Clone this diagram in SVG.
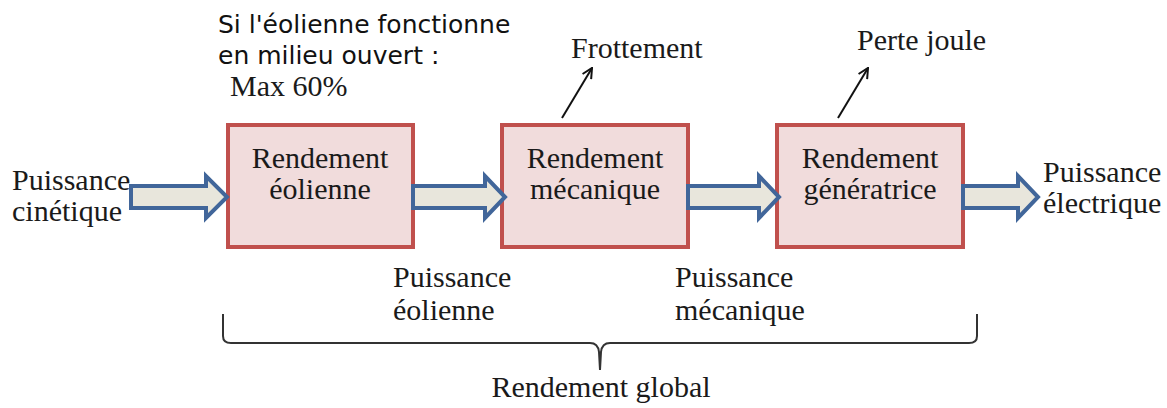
<svg xmlns="http://www.w3.org/2000/svg" width="1167" height="408" viewBox="0 0 1167 408">
  <defs>
    <style>
      .box { fill: #f1dcdc; stroke: #c0504d; stroke-width: 4; }
      .serif { font-family: "Liberation Serif", "Times New Roman", serif; font-size: 30px; fill: #1a1a1a; }
      .sans { font-family: "DejaVu Sans", sans-serif; font-size: 25px; fill: #111; }
      .mid { text-anchor: middle; }
      .flow { fill: #e8e6dc; stroke: #41669a; stroke-width: 4; stroke-linejoin: miter; }
      .loss { stroke: #111; stroke-width: 2; fill: none; }
      .brace { stroke: #333; stroke-width: 2; fill: none; }
    </style>
    <marker id="open" viewBox="0 0 12 12" refX="11" refY="6" markerWidth="12" markerHeight="12" markerUnits="userSpaceOnUse" orient="auto">
      <path d="M1,1 L11,6 L1,11" fill="none" stroke="#111" stroke-width="2"/>
    </marker>
  </defs>
  <rect width="1167" height="408" fill="#ffffff"/>

  <g id="note">
    <text class="sans" x="218" y="33">Si l'éolienne fonctionne</text>
    <text class="sans" x="218" y="64">en milieu ouvert :</text>
    <text class="serif" x="230" y="96">Max 60%</text>
  </g>

  <g id="input">
    <text class="serif" x="12" y="190">Puissance</text>
    <text class="serif" x="12" y="221">cinétique</text>
  </g>

  <g id="box-eolienne">
    <rect class="box" x="228" y="125" width="185" height="122"/>
    <text class="serif mid" x="320" y="168">Rendement</text>
    <text class="serif mid" x="320" y="199">éolienne</text>
  </g>

  <g id="box-mecanique">
    <rect class="box" x="502" y="125" width="186" height="122"/>
    <text class="serif mid" x="595" y="168">Rendement</text>
    <text class="serif mid" x="595" y="199">mécanique</text>
  </g>

  <g id="box-generatrice">
    <rect class="box" x="777" y="125" width="186" height="122"/>
    <text class="serif mid" x="870" y="168">Rendement</text>
    <text class="serif mid" x="870" y="199">génératrice</text>
  </g>

  <g id="output">
    <text class="serif" x="1043" y="182">Puissance</text>
    <text class="serif" x="1043" y="213">électrique</text>
  </g>

  <g id="label-frottement">
    <text class="serif" x="571" y="58">Frottement</text>
  </g>
  <g id="label-perte-joule">
    <text class="serif" x="857" y="50">Perte joule</text>
  </g>

  <g id="label-p-eolienne">
    <text class="serif" x="393" y="287">Puissance</text>
    <text class="serif" x="393" y="320">éolienne</text>
  </g>
  <g id="label-p-mecanique">
    <text class="serif" x="675" y="287">Puissance</text>
    <text class="serif" x="675" y="320">mécanique</text>
  </g>

  <g id="connectors">
    <polygon class="flow" points="131,186 206,186 206,176 227,197 206,218 206,208 131,208"/>
    <polygon class="flow" points="413,186 485,186 485,176 505,197 485,218 485,208 413,208"/>
    <polygon class="flow" points="688,186 759,186 759,176 779,197 759,218 759,208 688,208"/>
    <polygon class="flow" points="963,186 1018,186 1018,176 1038,197 1018,218 1018,208 963,208"/>
    <line class="loss" x1="562" y1="118" x2="592" y2="68" marker-end="url(#open)"/>
    <line class="loss" x1="838" y1="118" x2="868" y2="68" marker-end="url(#open)"/>
  </g>

  <g id="brace-global">
    <path class="brace" d="M223,314 L223,336 Q223,343 231,343 L590,343 Q598,343 599,352 L600,370 M600,370 L601,352 Q602,343 610,343 L969,343 Q977,343 977,336 L977,314"/>
    <text class="serif mid" x="601" y="397">Rendement global</text>
  </g>
</svg>
